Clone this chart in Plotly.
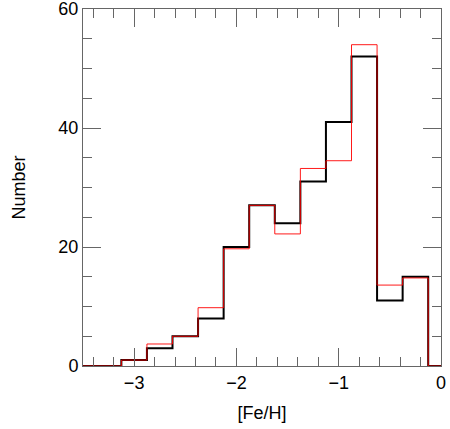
import plotly.graph_objects as go

# histogram bins (centres, width 0.25) and counts
bin_centres = [-3.0, -2.75, -2.5, -2.25, -2.0, -1.75, -1.5, -1.25, -1.0, -0.75, -0.5, -0.25]
black_counts = [1, 3, 5, 8, 20, 27, 24, 31, 41, 52, 11, 15]
red_counts = [1.0, 3.7, 5.0, 9.8, 19.7, 27.0, 22.2, 33.2, 34.5, 54.0, 13.6, 14.8]
bin_width = 0.25
x_min, x_max = -3.5, 0.0


def step_xy(centres, counts):
    # left edges of each bin, padded with zero-level runs out to the axis limits
    xs = [x_min] + [c - bin_width / 2 for c in centres] + [centres[-1] + bin_width / 2, x_max]
    ys = [0] + list(counts) + [0, 0]
    return xs, ys


fig = go.Figure()

bx, by = step_xy(bin_centres, black_counts)
fig.add_trace(go.Scatter(x=bx, y=by, mode='lines', line=dict(color='black', width=2, shape='hv'),
                         showlegend=False))

rx, ry = step_xy(bin_centres, red_counts)
fig.add_trace(go.Scatter(x=rx, y=ry, mode='lines', line=dict(color='rgba(255,0,0,0.9)', width=1, shape='hv'),
                         showlegend=False))

font = dict(family='Liberation Sans, Arial, sans-serif', size=18, color='black')

axis_common = dict(
    showgrid=False, zeroline=False, automargin=False,
    showline=True, linecolor='#666', linewidth=1, mirror='ticks',
    ticks='inside', ticklen=18, tickcolor='#666', tickwidth=1,
    tickfont=font, ticklabeloverflow='allow',
)

fig.update_xaxes(range=[x_min, x_max], dtick=1, tick0=0,
                 minor=dict(dtick=0.2, ticks='inside', ticklen=9, tickcolor='#666'),
                 title=dict(text='[Fe/H]', font=font, standoff=14),
                 **axis_common)
fig.update_yaxes(range=[0, 60], dtick=20, tick0=0,
                 minor=dict(dtick=5, ticks='inside', ticklen=9, tickcolor='#666'),
                 title=dict(text='Number', font=font, standoff=28),
                 **axis_common)

fig.update_layout(
    width=450, height=429,
    margin=dict(l=83, r=9, t=9, b=63),
    plot_bgcolor='white', paper_bgcolor='white',
)

# drop the default page margin so the figure sits at the window's corner
fig.write_html("out.html", config={'displayModeBar': False},
               post_script="document.body.style.margin='0';")
